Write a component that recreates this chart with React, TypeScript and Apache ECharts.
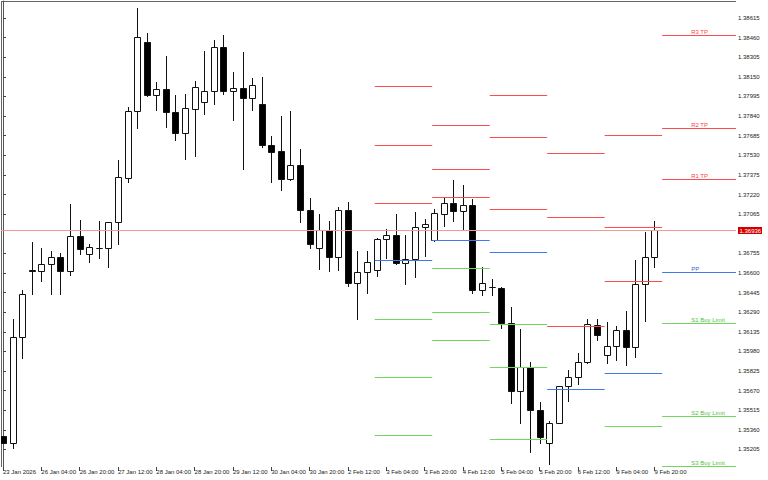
import React, { useEffect, useRef } from "react";
import * as echarts from "echarts";

// Candles: bar index, open, close, low, high (4-hour bars, 23 Jan 12:00 .. 9 Feb 20:00)
const barIndex: number[] = Array.from({ length: 69 }, (_, i) => i);
const opens: number[] = [
  1.35312, 1.35256, 1.36094, 1.36624, 1.36616, 1.36671, 1.36726, 1.36616, 1.36892, 1.36750,
  1.36800, 1.36797, 1.37003, 1.37350, 1.37880, 1.38425, 1.38006, 1.38054, 1.37872, 1.37706,
  1.37896, 1.37951, 1.38038, 1.38386, 1.38038, 1.38062, 1.37983, 1.37935, 1.37611, 1.37564,
  1.37343, 1.37453, 1.37098, 1.36797, 1.36940, 1.36726, 1.37098, 1.36521, 1.36608, 1.36624,
  1.36868, 1.36900, 1.36679, 1.36710, 1.36963, 1.36861, 1.37066, 1.37153, 1.37090, 1.37137,
  1.36465, 1.36489, 1.36481, 1.36205, 1.35667, 1.35857, 1.35517, 1.35256, 1.35414, 1.35707,
  1.35778, 1.35897, 1.36189, 1.35952, 1.36023, 1.36149, 1.36015, 1.36513, 1.36726,
];
const closes: number[] = [
  1.35256, 1.36094, 1.36434, 1.36616, 1.36671, 1.36726, 1.36616, 1.36892, 1.36789, 1.36805,
  1.36795, 1.37003, 1.37358, 1.37880, 1.38465, 1.38006, 1.38054, 1.37872, 1.37706, 1.37904,
  1.38070, 1.38038, 1.38386, 1.38038, 1.38062, 1.37983, 1.38086, 1.37611, 1.37556, 1.37343,
  1.37453, 1.37098, 1.36829, 1.36940, 1.36726, 1.37098, 1.36521, 1.36608, 1.36687, 1.36868,
  1.36900, 1.36679, 1.36710, 1.36963, 1.36987, 1.37074, 1.37153, 1.37090, 1.37137, 1.36465,
  1.36521, 1.36490, 1.36205, 1.35667, 1.35857, 1.35517, 1.35304, 1.35414, 1.35707, 1.35778,
  1.35897, 1.36197, 1.36110, 1.36023, 1.36149, 1.36015, 1.36513, 1.36726, 1.36936,
];
const lows: number[] = [
  1.35256, 1.35217, 1.35928, 1.36434, 1.36537, 1.36434, 1.36434, 1.36584, 1.36750, 1.36687,
  1.36718, 1.36647, 1.36829, 1.37319, 1.37746, 1.37999, 1.37888, 1.37754, 1.37651, 1.37501,
  1.37524, 1.37856, 1.37935, 1.38014, 1.37809, 1.37422, 1.37888, 1.37596, 1.37319, 1.37256,
  1.37335, 1.37003, 1.36797, 1.36631, 1.36616, 1.36624, 1.36497, 1.36236, 1.36442, 1.36576,
  1.36718, 1.36671, 1.36513, 1.36568, 1.36734, 1.36853, 1.36971, 1.37011, 1.36947, 1.36442,
  1.36426, 1.36426, 1.36165, 1.35572, 1.35414, 1.35185, 1.35256, 1.35090, 1.35414, 1.35588,
  1.35723, 1.35889, 1.36070, 1.35889, 1.35912, 1.35873, 1.35936, 1.36220, 1.36647,
];
const highs: number[] = [
  1.35312, 1.36236, 1.36465, 1.36845, 1.36797, 1.36774, 1.36758, 1.37145, 1.37019, 1.36829,
  1.37011, 1.37003, 1.37493, 1.37912, 1.38694, 1.38497, 1.38109, 1.38315, 1.38006, 1.38014,
  1.38117, 1.38354, 1.38441, 1.38481, 1.38188, 1.38346, 1.38141, 1.38149, 1.37682, 1.37841,
  1.37880, 1.37580, 1.37192, 1.37066, 1.37011, 1.37121, 1.37161, 1.36774, 1.36774, 1.36876,
  1.36947, 1.37066, 1.36900, 1.37082, 1.37026, 1.37106, 1.37200, 1.37335, 1.37295, 1.37185,
  1.36647, 1.36552, 1.36489, 1.36331, 1.36157, 1.35897, 1.35580, 1.35430, 1.35707, 1.35833,
  1.35968, 1.36236, 1.36236, 1.36213, 1.36181, 1.36299, 1.36703, 1.36924, 1.37011,
];

// Daily pivot sets: first bar of the day, then R3, R2, R1, PP, S1, S2, S3 (null = off chart)
const pivotDayStart: number[] = [39, 45, 51, 57, 63, 69];
const pivotR3: number[] = [1.38075, 1.37769, 1.38009, 1.37546, 1.37688, 1.38481];
const pivotR2: number[] = [1.37614, 1.37424, 1.37672, 1.37045, 1.36961, 1.37746];
const pivotR1: number[] = [1.37155, 1.37200, 1.37103, 1.36181, 1.36537, 1.37343];
const pivotPP: number[] = [1.36703, 1.36858, 1.36763, 1.35681, 1.35812, 1.36605];
const pivotS1: (number | null)[] = [1.36233, 1.36639, 1.36194, null, 1.35388, 1.36207];
const pivotS2: (number | null)[] = [1.35778, 1.36289, 1.35859, null, null, 1.35470];
const pivotS3: (number | null)[] = [1.35317, 1.36068, 1.35290, null, null, 1.35074];
const pivotNames: string[] = ["R3 TP", "R2 TP", "R1 TP", "PP", "S1 Buy Limit", "S2 Buy Limit", "S3 Buy Limit"];

const currentPrice = 1.36936;

// Axis ticks
const yTickStart = 1.35205;
const yTickStep = 0.00155;
const yTickCount = 23;
const xTickBars: number[] = [0, 4, 8, 12, 16, 20, 24, 28, 32, 36, 40, 44, 48, 52, 56, 60, 64, 68];
const xTickLabels: string[] = [
  "23 Jan 2026", "26 Jan 04:00", "26 Jan 20:00", "27 Jan 12:00", "28 Jan 04:00", "28 Jan 20:00",
  "29 Jan 12:00", "30 Jan 04:00", "30 Jan 20:00", "2 Feb 12:00", "3 Feb 04:00", "3 Feb 20:00",
  "4 Feb 12:00", "5 Feb 04:00", "5 Feb 20:00", "6 Feb 12:00", "9 Feb 04:00", "9 Feb 20:00",
];

const X_MIN = -0.209;
const X_MAX = 76.51;
const Y_MIN = 1.350666;
const Y_MAX = 1.387493;

const FONT = '"Liberation Sans", Arial, sans-serif';
const LINE_COLORS = ["#ff4d4d", "#3f7ae6", "#6fd95c"];
const TEXT_COLORS = ["#ff4040", "#3366dd", "#4fc43c"];

export default function App() {
  const ref = useRef<HTMLDivElement>(null);

  useEffect(() => {
    document.body.style.margin = "0";
    if (!ref.current) return;
    const chart = echarts.init(ref.current, null, { renderer: "svg" });

    const candleData = barIndex.map((i) => [i, opens[i], closes[i], lows[i], highs[i]]);

    // y ticks, skipping the one hidden under the current-price tag
    const yTicks: number[] = [];
    for (let k = 0; k < yTickCount; k++) {
      const v = +(yTickStart + k * yTickStep).toFixed(5);
      if (Math.abs(v - currentPrice) < 0.0005) continue;
      yTicks.push(v);
    }

    const levelSets: (number | null)[][] = [pivotR3, pivotR2, pivotR1, pivotPP, pivotS1, pivotS2, pivotS3];
    const groups: { data: number[][]; labels: number[] }[] = [
      { data: [], labels: [] },
      { data: [], labels: [] },
      { data: [], labels: [] },
    ];
    pivotDayStart.forEach((s, d) => {
      const last = d === pivotDayStart.length - 1;
      const x0 = s - 0.2;
      const x1 = last ? X_MAX : s + 5.8;
      levelSets.forEach((arr, li) => {
        const v = arr[d];
        if (v == null) return;
        const kind = li < 3 ? 0 : li === 3 ? 1 : 2;
        groups[kind].data.push([x0, x1, v]);
        groups[kind].labels.push(last ? li : -1);
      });
    });

    const pivotSeries = groups.map((g, kind) => ({
      type: "custom",
      name: "pivot" + kind,
      clip: true,
      z: 4,
      encode: { x: [0, 1], y: 2 },
      data: g.data,
      renderItem: (params: any, api: any) => {
        const li = g.labels[params.dataIndex];
        const v = api.value(2);
        const p0 = api.coord([api.value(0), v]);
        const p1 = api.coord([api.value(1), v]);
        const y = Math.round(p0[1]) + 0.5;
        const children: any[] = [
          {
            type: "line",
            shape: { x1: p0[0], y1: y, x2: p1[0], y2: y },
            style: { stroke: LINE_COLORS[kind], lineWidth: 1, opacity: 1 },
          },
        ];
        if (li >= 0) {
          children.push({
            type: "text",
            x: p0[0] + 29,
            y: y - 1,
            style: {
              text: pivotNames[li],
              fill: TEXT_COLORS[kind],
              fontSize: 6,
              fontFamily: FONT,
              align: "left",
              verticalAlign: "bottom",
            },
          });
        }
        return { type: "group", children };
      },
    }));

    const option: any = {
      animation: false,
      backgroundColor: "#ffffff",
      grid: { left: 1, top: 1, right: 32, bottom: 13, containLabel: false },
      xAxis: {
        type: "value",
        min: X_MIN,
        max: X_MAX,
        splitLine: { show: false },
        axisLine: { show: false },
        axisTick: {
          show: true,
          customValues: xTickBars,
          length: 4,
          inside: false,
          lineStyle: { color: "#444", width: 1 },
        },
        axisLabel: {
          show: true,
          customValues: xTickBars,
          formatter: (v: number) => xTickLabels[Math.round(v / 4)] ?? "",
          align: "left",
          margin: 2,
          fontSize: 6,
          fontFamily: FONT,
          color: "#222",
        },
      },
      yAxis: {
        type: "value",
        position: "right",
        min: Y_MIN,
        max: Y_MAX,
        splitLine: { show: false },
        axisLine: { show: true, lineStyle: { color: "#555", width: 1 } },
        axisTick: {
          show: true,
          customValues: yTicks,
          length: 3,
          inside: false,
          lineStyle: { color: "#444" },
        },
        axisLabel: {
          show: true,
          customValues: yTicks,
          formatter: (v: number) => v.toFixed(5),
          margin: 2,
          fontSize: 6,
          fontFamily: FONT,
          color: "#222",
        },
      },
      graphic: [
        { type: "line", shape: { x1: 1, y1: 1.5, x2: 736, y2: 1.5 }, style: { stroke: "#666", lineWidth: 1 }, silent: true },
        { type: "line", shape: { x1: 1.5, y1: 1, x2: 1.5, y2: 467 }, style: { stroke: "#666", lineWidth: 1 }, silent: true },
      ],
      series: [
        {
          type: "custom",
          name: "candles",
          clip: true,
          z: 2,
          encode: { x: 0, y: [1, 2, 3, 4] },
          data: candleData,
          renderItem: (_params: any, api: any) => {
            const x = api.value(0);
            const o = api.value(1);
            const c = api.value(2);
            const l = api.value(3);
            const h = api.value(4);
            const pO = api.coord([x, o]);
            const pC = api.coord([x, c]);
            const pL = api.coord([x, l]);
            const pH = api.coord([x, h]);
            const cx = Math.round(pO[0]) + 0.5;
            const top = Math.round(Math.min(pO[1], pC[1])) + 0.5;
            const bot = Math.round(Math.max(pO[1], pC[1])) + 0.5;
            const bull = c >= o;
            return {
              type: "group",
              children: [
                {
                  type: "line",
                  shape: { x1: cx, y1: Math.round(pH[1]), x2: cx, y2: Math.round(pL[1]) + 1 },
                  style: { stroke: "#111", lineWidth: 1 },
                },
                {
                  type: "rect",
                  shape: { x: cx - 3, y: top, width: 6, height: Math.max(bot - top, 0) },
                  style: { fill: bull ? "#ffffff" : "#000000", stroke: "#111", lineWidth: 1 },
                },
              ],
            };
          },
        },
        {
          type: "custom",
          name: "currentPrice",
          clip: false,
          z: 3,
          encode: { x: [0, 1], y: 2 },
          data: [[X_MIN, X_MAX, currentPrice]],
          renderItem: (_params: any, api: any) => {
            const v = api.value(2);
            const p0 = api.coord([api.value(0), v]);
            const p1 = api.coord([api.value(1), v]);
            const y = Math.round(p0[1]) + 0.5;
            return {
              type: "group",
              children: [
                {
                  type: "line",
                  shape: { x1: p0[0], y1: y, x2: p1[0], y2: y },
                  style: { stroke: "#f29a9a", lineWidth: 1 },
                },
                {
                  type: "rect",
                  shape: { x: p1[0] + 2, y: y - 3.5, width: 24, height: 7 },
                  style: { fill: "#d40000" },
                },
                {
                  type: "text",
                  x: p1[0] + 3.5,
                  y: y,
                  style: {
                    text: currentPrice.toFixed(5),
                    fill: "#ffffff",
                    fontSize: 6,
                    fontFamily: FONT,
                    align: "left",
                    verticalAlign: "middle",
                  },
                },
              ],
            };
          },
        },
        ...pivotSeries,
      ],
    };

    chart.setOption(option);
    return () => {
      chart.dispose();
    };
  }, []);

  return <div ref={ref} style={{ width: 768, height: 480 }} />;
}
